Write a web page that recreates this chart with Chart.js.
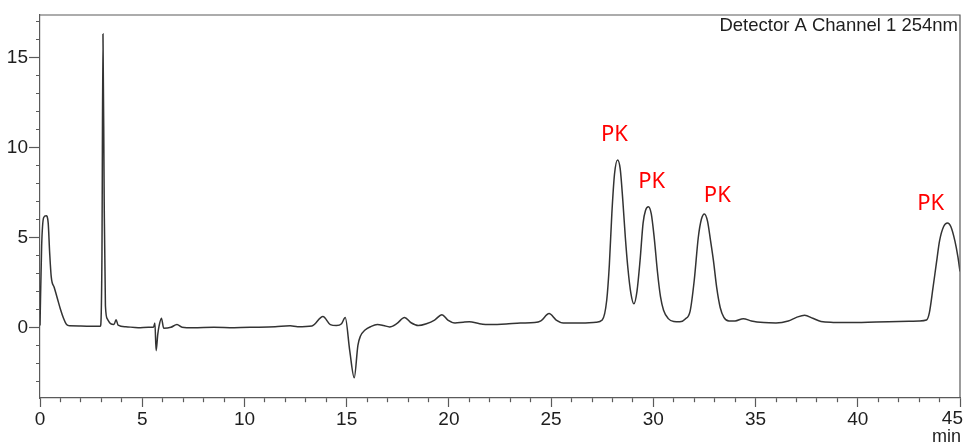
<!DOCTYPE html>
<html>
<head>
<meta charset="utf-8">
<script src="https://cdn.jsdelivr.net/npm/chart.js@4/dist/chart.umd.min.js"></script>
<style>
  html, body { margin: 0; padding: 0; background: #fff; }
  #wrap { width: 964px; height: 444px; }
</style>
</head>
<body>
<div id="wrap"><canvas id="myChart" width="964" height="444"></canvas></div>
<script>
// retention time (min) and detector signal
var times = [
  0, 0.08, 0.18, 0.3, 0.4, 0.47, 0.55, 0.7, 0.85, 1.0, 1.15, 1.3, 1.45, 2.0, 2.6, 2.95,
  3.03, 3.08, 3.14, 3.2, 3.3, 3.45, 3.62, 3.72, 3.82, 4.2, 4.8, 5.3, 5.55, 5.62, 5.68,
  5.76, 5.83, 5.94, 6.05, 6.4, 6.7, 6.95, 7.5, 8.5, 9.5, 10.5, 11.5, 12.24, 12.6, 13.3,
  13.84, 14.2, 14.5, 14.75, 14.93, 15.15, 15.37, 15.55, 15.67, 15.9, 16.2, 16.5, 16.8,
  17.1, 17.45, 17.83, 18.15, 18.5, 18.9, 19.3, 19.66, 19.95, 20.3, 20.7, 21.0, 21.5,
  22.0, 22.8, 23.5, 24.2, 24.5, 24.9, 25.25, 25.6, 26.4, 27.2, 27.5, 27.72, 27.85, 27.97,
  28.1, 28.25, 28.38, 28.51, 28.63, 28.75, 28.9, 29.05, 29.2, 29.35, 29.5, 29.62, 29.76,
  29.9, 30.05, 30.2, 30.35, 30.5, 30.73, 31.0, 31.3, 31.55, 31.8, 32.0, 32.2, 32.35,
  32.5, 32.65, 32.8, 32.94, 33.1, 33.27, 33.45, 33.7, 34.0, 34.4, 34.8, 35.4, 36.0, 36.6,
  37.0, 37.4, 37.8, 38.2, 38.8, 39.6, 40.5, 41.5, 42.5, 43.0, 43.36, 43.5, 43.68, 43.85,
  44.0, 44.2, 44.39, 44.55, 44.75, 44.9, 45.0
];
var signal = [
  0.1, 4.5, 6.1, 6.2, 5.8, 4.2, 2.8, 2.2, 1.6, 1.0, 0.5, 0.15, 0.08, 0.07, 0.05, 0.05,
  4.0, 16.3, 7.0, 1.2, 0.45, 0.2, 0.15, 0.42, 0.12, 0.03, -0.02, 0.0, 0.0, 0.24, -1.3,
  -0.4, 0.1, 0.5, -0.05, 0.0, 0.15, 0.0, -0.03, 0.0, -0.02, 0.0, 0.03, 0.08, 0.03, 0.07,
  0.6, 0.15, 0.1, 0.2, 0.54, -1.3, -2.8, -1.0, -0.5, -0.15, 0.05, 0.15, 0.1,
  0.02, 0.2, 0.54, 0.25, 0.1, 0.2, 0.4, 0.7, 0.4, 0.24, 0.28, 0.3, 0.2,
  0.15, 0.18, 0.24, 0.26, 0.35, 0.76, 0.4, 0.24, 0.24, 0.28, 0.4, 1.5, 3.5, 6.3,
  8.5, 9.3, 8.8, 7.0, 5.0, 3.35, 1.9, 1.3, 2.0, 3.7, 5.8, 6.5, 6.7,
  6.3, 4.9, 3.1, 1.7, 0.95, 0.48, 0.32, 0.3, 0.45, 0.9, 2.6, 5.0, 6.0,
  6.3, 5.9, 4.8, 3.7, 2.2, 1.1, 0.55, 0.35, 0.35, 0.48, 0.35, 0.26, 0.24, 0.35,
  0.55, 0.67, 0.5, 0.32, 0.27, 0.26, 0.28, 0.3, 0.33, 0.35, 0.4, 0.8, 2.2, 3.6,
  4.8, 5.6, 5.8, 5.6, 4.8, 3.9, 3.1
];

var xLabels = [0, 5, 10, 15, 20, 25, 30, 35, 40, 45];
var yLabels = [0, 5, 10, 15];
var xUnit = "min";
var header = "Detector A Channel 1 254nm";

// "PK" annotations, anchored in data units
var peakNames = ["PK", "PK", "PK", "PK"];
var peakNameTimes = [28.1, 29.92, 33.13, 43.57];
var peakNameLevels = [10.7, 8.1, 7.3, 6.85];

var points = times.map(function(t, i) { return { x: t, y: signal[i] }; });

function intTicks(lo, hi) {
  var out = [];
  for (var v = lo; v <= hi; v++) out.push({ value: v });
  return out;
}

var axisColor = "#5a5a5a";
var labelColor = "#1e1e1e";

var overlay = {
  id: "overlay",
  afterDraw: function(chart) {
    var ctx = chart.ctx;
    var a = chart.chartArea;
    var xs = chart.scales.x, ys = chart.scales.y;
    ctx.save();
    // top and right frame
    ctx.strokeStyle = axisColor;
    ctx.lineWidth = 1.2;
    ctx.beginPath();
    ctx.moveTo(a.left, a.top);
    ctx.lineTo(a.right, a.top);
    ctx.lineTo(a.right, a.bottom);
    ctx.stroke();

    ctx.fillStyle = labelColor;
    ctx.font = '18.5px "Liberation Sans"';
    ctx.textAlign = "right";
    ctx.textBaseline = "top";
    ctx.fillText(header, a.right - 2, a.top + 2);

    // last x label sits against the edge, unit below it
    ctx.font = '19px "Liberation Sans"';
    ctx.fillText(String(xLabels[xLabels.length - 1]), 963, 409);
    ctx.font = '18px "Liberation Sans"';
    ctx.textBaseline = "alphabetic";
    ctx.fillText(xUnit, 961, 442);

    ctx.fillStyle = "#ff0000";
    ctx.font = '22px "Noto Sans"';
    ctx.textAlign = "center";
    ctx.textBaseline = "middle";
    peakNames.forEach(function(n, i) {
      ctx.fillText(n, xs.getPixelForValue(peakNameTimes[i]), ys.getPixelForValue(peakNameLevels[i]));
    });
    ctx.restore();
  }
};

var ctx = document.getElementById("myChart").getContext("2d");
var chart = new Chart(ctx, {
  type: "line",
  data: {
    datasets: [{
      data: points,
      borderColor: "#333333",
      borderWidth: 1.5,
      pointRadius: 0,
      fill: false,
      cubicInterpolationMode: "monotone"
    }]
  },
  options: {
    responsive: false,
    animation: false,
    events: [],
    layout: { padding: { top: 15, right: 4, left: 0, bottom: 0 } },
    plugins: { legend: { display: false }, tooltip: { enabled: false } },
    scales: {
      x: {
        type: "linear",
        min: 0,
        max: 45,
        afterBuildTicks: function(s) { s.ticks = intTicks(0, 45); },
        afterFit: function(s) { s.height = 46; s.paddingLeft = 0; s.paddingRight = 0; },
        border: { display: true, color: axisColor, width: 1.2 },
        grid: {
          drawOnChartArea: false,
          drawTicks: true,
          tickLength: 9,
          tickColor: axisColor,
          tickWidth: 1.2,
          tickBorderDash: function(c) {
            return xLabels.indexOf(c.tick.value) >= 0 ? [] : [4, 100];
          }
        },
        ticks: {
          autoSkip: false,
          maxRotation: 0,
          padding: 1,
          color: labelColor,
          font: { family: "Liberation Sans", size: 19 },
          callback: function(v) {
            return (xLabels.indexOf(v) >= 0 && v !== xLabels[xLabels.length - 1]) ? String(v) : "";
          }
        }
      },
      y: {
        min: -3.93,
        max: 17.35,
        afterBuildTicks: function(s) { s.ticks = intTicks(-3, 17); },
        afterFit: function(s) { s.width = 40; },
        border: { display: true, color: axisColor, width: 1.2 },
        grid: {
          drawOnChartArea: false,
          drawTicks: true,
          tickLength: 11,
          tickColor: axisColor,
          tickWidth: 1.2,
          tickBorderDash: function(c) {
            return yLabels.indexOf(c.tick.value) >= 0 ? [] : [0, 7, 4, 100];
          }
        },
        ticks: {
          autoSkip: false,
          padding: 1,
          color: labelColor,
          font: { family: "Liberation Sans", size: 19 },
          callback: function(v) { return yLabels.indexOf(v) >= 0 ? String(v) : ""; }
        }
      }
    }
  },
  plugins: [overlay]
});
</script>
</body>
</html>
